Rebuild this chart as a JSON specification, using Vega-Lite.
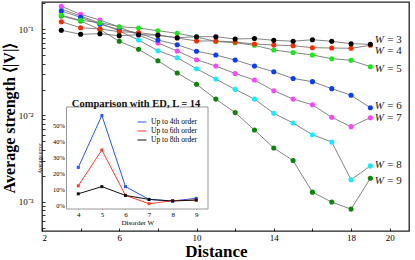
{
  "$schema": "https://vega.github.io/schema/vega-lite/v6.json",
  "width": 367,
  "height": 229,
  "autosize": {"type": "none"},
  "padding": {"left": 42, "top": 2, "right": 6, "bottom": 29},
  "background": "white",
  "config": {
    "view": {"stroke": "#222", "strokeWidth": 1.3},
    "font": "Liberation Serif",
    "axis": {"grid": false, "domain": false, "tickColor": "#000", "labelColor": "#000", "titleColor": "#000", "labelFont": "Liberation Serif", "titleFont": "Liberation Serif", "tickWidth": 0.8}
  },
  "datasets": {
    "main": [
      {"W": "9", "d": 3, "v": 0.1427}, {"W": "9", "d": 4, "v": 0.1248}, {"W": "9", "d": 5, "v": 0.0995}, {"W": "9", "d": 6, "v": 0.0726}, {"W": "9", "d": 7, "v": 0.0586}, {"W": "9", "d": 8, "v": 0.0432}, {"W": "9", "d": 9, "v": 0.0311}, {"W": "9", "d": 10, "v": 0.023}, {"W": "9", "d": 11, "v": 0.0155}, {"W": "9", "d": 12, "v": 0.0108}, {"W": "9", "d": 13, "v": 0.00679}, {"W": "9", "d": 14, "v": 0.0042}, {"W": "9", "d": 15, "v": 0.003}, {"W": "9", "d": 16, "v": 0.00129}, {"W": "9", "d": 17, "v": 0.00099}, {"W": "9", "d": 18, "v": 0.00082}, {"W": "9", "d": 19, "v": 0.00187},
      {"W": "8", "d": 3, "v": 0.172}, {"W": "8", "d": 4, "v": 0.1427}, {"W": "8", "d": 5, "v": 0.1183}, {"W": "8", "d": 6, "v": 0.0956}, {"W": "8", "d": 7, "v": 0.0751}, {"W": "8", "d": 8, "v": 0.0565}, {"W": "8", "d": 9, "v": 0.0468}, {"W": "8", "d": 10, "v": 0.0349}, {"W": "8", "d": 11, "v": 0.0265}, {"W": "8", "d": 12, "v": 0.0201}, {"W": "8", "d": 13, "v": 0.0155}, {"W": "8", "d": 14, "v": 0.0106}, {"W": "8", "d": 15, "v": 0.00818}, {"W": "8", "d": 16, "v": 0.00599}, {"W": "8", "d": 17, "v": 0.00493}, {"W": "8", "d": 18, "v": 0.0018}, {"W": "8", "d": 19, "v": 0.0026},
      {"W": "7", "d": 3, "v": 0.1848}, {"W": "7", "d": 4, "v": 0.1493}, {"W": "7", "d": 5, "v": 0.1282}, {"W": "7", "d": 6, "v": 0.1063}, {"W": "7", "d": 7, "v": 0.0859}, {"W": "7", "d": 8, "v": 0.0694}, {"W": "7", "d": 9, "v": 0.056}, {"W": "7", "d": 10, "v": 0.0444}, {"W": "7", "d": 11, "v": 0.0375}, {"W": "7", "d": 12, "v": 0.0307}, {"W": "7", "d": 13, "v": 0.0258}, {"W": "7", "d": 14, "v": 0.0194}, {"W": "7", "d": 15, "v": 0.0155}, {"W": "7", "d": 16, "v": 0.0133}, {"W": "7", "d": 17, "v": 0.00953}, {"W": "7", "d": 18, "v": 0.00742}, {"W": "7", "d": 19, "v": 0.00943},
      {"W": "6", "d": 3, "v": 0.1631}, {"W": "6", "d": 4, "v": 0.1378}, {"W": "6", "d": 5, "v": 0.1143}, {"W": "6", "d": 6, "v": 0.0995}, {"W": "6", "d": 7, "v": 0.0906}, {"W": "6", "d": 8, "v": 0.0751}, {"W": "6", "d": 9, "v": 0.0663}, {"W": "6", "d": 10, "v": 0.0556}, {"W": "6", "d": 11, "v": 0.0503}, {"W": "6", "d": 12, "v": 0.044}, {"W": "6", "d": 13, "v": 0.0375}, {"W": "6", "d": 14, "v": 0.0322}, {"W": "6", "d": 15, "v": 0.0269}, {"W": "6", "d": 16, "v": 0.0247}, {"W": "6", "d": 17, "v": 0.0205}, {"W": "6", "d": 18, "v": 0.0172}, {"W": "6", "d": 19, "v": 0.0123},
      {"W": "5", "d": 3, "v": 0.1454}, {"W": "5", "d": 4, "v": 0.1272}, {"W": "5", "d": 5, "v": 0.1193}, {"W": "5", "d": 6, "v": 0.1072}, {"W": "5", "d": 7, "v": 0.1035}, {"W": "5", "d": 8, "v": 0.0963}, {"W": "5", "d": 9, "v": 0.0899}, {"W": "5", "d": 10, "v": 0.0814}, {"W": "5", "d": 11, "v": 0.0722}, {"W": "5", "d": 12, "v": 0.0699}, {"W": "5", "d": 13, "v": 0.0652}, {"W": "5", "d": 14, "v": 0.0575}, {"W": "5", "d": 15, "v": 0.0538}, {"W": "5", "d": 16, "v": 0.0503}, {"W": "5", "d": 17, "v": 0.0456}, {"W": "5", "d": 18, "v": 0.0437}, {"W": "5", "d": 19, "v": 0.0368},
      {"W": "4", "d": 3, "v": 0.1225}, {"W": "4", "d": 4, "v": 0.1044}, {"W": "4", "d": 5, "v": 0.1008}, {"W": "4", "d": 6, "v": 0.0938}, {"W": "4", "d": 7, "v": 0.0913}, {"W": "4", "d": 8, "v": 0.0859}, {"W": "4", "d": 9, "v": 0.0793}, {"W": "4", "d": 10, "v": 0.0732}, {"W": "4", "d": 11, "v": 0.0732}, {"W": "4", "d": 12, "v": 0.0712}, {"W": "4", "d": 13, "v": 0.0675}, {"W": "4", "d": 14, "v": 0.0657}, {"W": "4", "d": 15, "v": 0.0645}, {"W": "4", "d": 16, "v": 0.0612}, {"W": "4", "d": 17, "v": 0.0607}, {"W": "4", "d": 18, "v": 0.0602}, {"W": "4", "d": 19, "v": 0.0652},
      {"W": "3", "d": 3, "v": 0.0974}, {"W": "3", "d": 4, "v": 0.0875}, {"W": "3", "d": 5, "v": 0.0889}, {"W": "3", "d": 6, "v": 0.0843}, {"W": "3", "d": 7, "v": 0.0866}, {"W": "3", "d": 8, "v": 0.0852}, {"W": "3", "d": 9, "v": 0.0799}, {"W": "3", "d": 10, "v": 0.0821}, {"W": "3", "d": 11, "v": 0.0821}, {"W": "3", "d": 12, "v": 0.0772}, {"W": "3", "d": 13, "v": 0.0782}, {"W": "3", "d": 14, "v": 0.0745}, {"W": "3", "d": 15, "v": 0.0728}, {"W": "3", "d": 16, "v": 0.0757}, {"W": "3", "d": 17, "v": 0.0726}, {"W": "3", "d": 18, "v": 0.0681}, {"W": "3", "d": 19, "v": 0.067}
    ],
    "labels": [
      {"W": "3", "d": 19, "v": 0.0752},
      {"W": "4", "d": 19, "v": 0.0565},
      {"W": "5", "d": 19, "v": 0.0346},
      {"W": "6", "d": 19, "v": 0.013},
      {"W": "7", "d": 19, "v": 0.00943},
      {"W": "8", "d": 19, "v": 0.00267},
      {"W": "9", "d": 19, "v": 0.00175}
    ],
    "inset": [
      {"order": "Up to 4th order", "W": 4, "err": 23.5}, {"order": "Up to 4th order", "W": 5, "err": 56}, {"order": "Up to 4th order", "W": 6, "err": 11.5}, {"order": "Up to 4th order", "W": 7, "err": 3.5}, {"order": "Up to 4th order", "W": 8, "err": 2.5}, {"order": "Up to 4th order", "W": 9, "err": 4.2},
      {"order": "Up to 6th order", "W": 4, "err": 12}, {"order": "Up to 6th order", "W": 5, "err": 34.4}, {"order": "Up to 6th order", "W": 6, "err": 6}, {"order": "Up to 6th order", "W": 7, "err": 0.8}, {"order": "Up to 6th order", "W": 8, "err": 2.7}, {"order": "Up to 6th order", "W": 9, "err": 3.1},
      {"order": "Up to 8th order", "W": 4, "err": 7}, {"order": "Up to 8th order", "W": 5, "err": 11.5}, {"order": "Up to 8th order", "W": 6, "err": 6}, {"order": "Up to 8th order", "W": 7, "err": 3.5}, {"order": "Up to 8th order", "W": 8, "err": 2.5}, {"order": "Up to 8th order", "W": 9, "err": 3.1}
    ]
  },
  "layer": [
    {
      "layer": [
        {
          "data": {"name": "main"},
          "mark": {"type": "line", "color": "#666", "strokeWidth": 0.8},
          "encoding": {
            "x": {"field": "d", "type": "quantitative", "scale": {"domain": [2, 21], "nice": false, "zero": false},
              "axis": {"values": [2,3,4,5,6,7,8,9,10,11,12,13,14,15,16,17,18,19,20,21], "labelExpr": "indexof([2,6,10,14,18,20], datum.value) >= 0 ? datum.label : ''", "tickSize": -3, "labelPadding": 5, "labelFontSize": 9, "title": "Distance", "titleFontSize": 17, "titleFontWeight": "bold", "titleX": 174, "titleY": 25, "titleBaseline": "alphabetic", "titleAlign": "center"}},
            "y": {"field": "v", "type": "quantitative", "scale": {"type": "log", "domain": [0.000457, 0.2074], "nice": false},
              "axis": {"values": [0.0005,0.0006,0.0007,0.0008,0.0009,0.001,0.002,0.003,0.004,0.005,0.006,0.007,0.008,0.009,0.01,0.02,0.03,0.04,0.05,0.06,0.07,0.08,0.09,0.1,0.2], "labelExpr": "datum.value == 0.1 ? '10⁻¹' : datum.value == 0.01 ? '10⁻²' : datum.value == 0.001 ? '10⁻³' : ''", "tickSize": -3, "labelPadding": 12, "labelFontSize": 9, "title": "Average strength ⟨|V|⟩", "titleFontSize": 16, "titleFontWeight": "bold", "titleX": -28, "titleY": 115.5, "titleBaseline": "alphabetic", "titleAlign": "center", "titleAngle": -90}},
            "detail": {"field": "W"}
          }
        },
        {
          "data": {"name": "main"},
          "mark": {"type": "circle", "size": 26, "opacity": 1},
          "encoding": {
            "x": {"field": "d", "type": "quantitative"},
            "y": {"field": "v", "type": "quantitative"},
            "color": {"field": "W", "type": "nominal", "scale": {"domain": ["3","4","5","6","7","8","9"], "range": ["#000000","#ff2a00","#11ee11","#0a3cff","#ff44ff","#11eeff","#0a870a"]}, "legend": null}
          }
        },
        {
          "data": {"name": "labels"},
          "mark": {"type": "text", "text": "W", "fontStyle": "italic", "fontSize": 11, "align": "left", "baseline": "middle", "dx": 4.5, "color": "#222"},
          "encoding": {
            "x": {"field": "d", "type": "quantitative"},
            "y": {"field": "v", "type": "quantitative"}
          }
        },
        {
          "data": {"name": "labels"},
          "transform": [{"calculate": "'= ' + datum.W", "as": "eq"}],
          "mark": {"type": "text", "fontSize": 11, "align": "left", "baseline": "middle", "dx": 17, "color": "#222"},
          "encoding": {
            "x": {"field": "d", "type": "quantitative"},
            "y": {"field": "v", "type": "quantitative"},
            "text": {"field": "eq"}
          }
        }
      ]
    },
    {
      "layer": [
        {
          "data": {"values": [{}]},
          "mark": {"type": "rect", "fill": "white", "stroke": "#999", "strokeWidth": 1},
          "encoding": {
            "x": {"datum": 3.5, "type": "quantitative", "scale": {"domain": [3.5, 9.5], "range": [24.5, 166], "nice": false, "zero": false},
              "axis": {"orient": "bottom", "offset": -22, "values": [4,5,6,7,8,9], "format": "d", "tickSize": -2, "labelPadding": 3, "labelFontSize": 7, "title": "Disorder W", "titleFontSize": 7, "titleFontWeight": "normal", "titlePadding": 1}},
            "x2": {"datum": 9.5},
            "y": {"datum": -2.5, "type": "quantitative", "scale": {"domain": [-2.5, 61.3], "range": [207, 105], "nice": false, "zero": false},
              "axis": {"orient": "left", "offset": -24.5, "values": [0,10,20,30,40,50], "labelExpr": "datum.value + '%'", "tickSize": -2, "labelPadding": 4, "labelFontSize": 6.5, "title": "Average error", "titleFontSize": 5.5, "titleFontWeight": "normal", "titlePadding": 10}},
            "y2": {"datum": 61.3}
          }
        },
        {
          "data": {"name": "inset"},
          "mark": {"type": "line", "strokeWidth": 1},
          "encoding": {
            "x": {"field": "W", "type": "quantitative"},
            "y": {"field": "err", "type": "quantitative"},
            "color": {"field": "order", "type": "nominal", "scale": {"domain": ["Up to 4th order","Up to 6th order","Up to 8th order"], "range": ["#2a55ff","#ff3a2a","#111111"]},
              "legend": {"orient": "none", "legendX": 95, "legendY": 115, "title": null, "labelFontSize": 7.5, "labelFont": "Liberation Serif", "symbolType": "stroke", "symbolStrokeWidth": 1, "symbolSize": 80, "rowPadding": 0, "labelOffset": 4}}
          }
        },
        {
          "data": {"name": "inset"},
          "mark": {"type": "square", "size": 9, "opacity": 1},
          "encoding": {
            "x": {"field": "W", "type": "quantitative"},
            "y": {"field": "err", "type": "quantitative"},
            "color": {"field": "order", "type": "nominal"}
          }
        },
        {
          "data": {"values": [{}]},
          "mark": {"type": "text", "text": "Comparison with ED, L = 14", "fontWeight": "bold", "fontSize": 10.5, "align": "center", "baseline": "middle", "color": "#111"},
          "encoding": {
            "x": {"datum": 6.45, "type": "quantitative"},
            "y": {"datum": 63.2, "type": "quantitative"}
          }
        }
      ]
    }
  ],
  "resolve": {"scale": {"x": "independent", "y": "independent", "color": "independent"}, "axis": {"x": "independent", "y": "independent"}}
}
